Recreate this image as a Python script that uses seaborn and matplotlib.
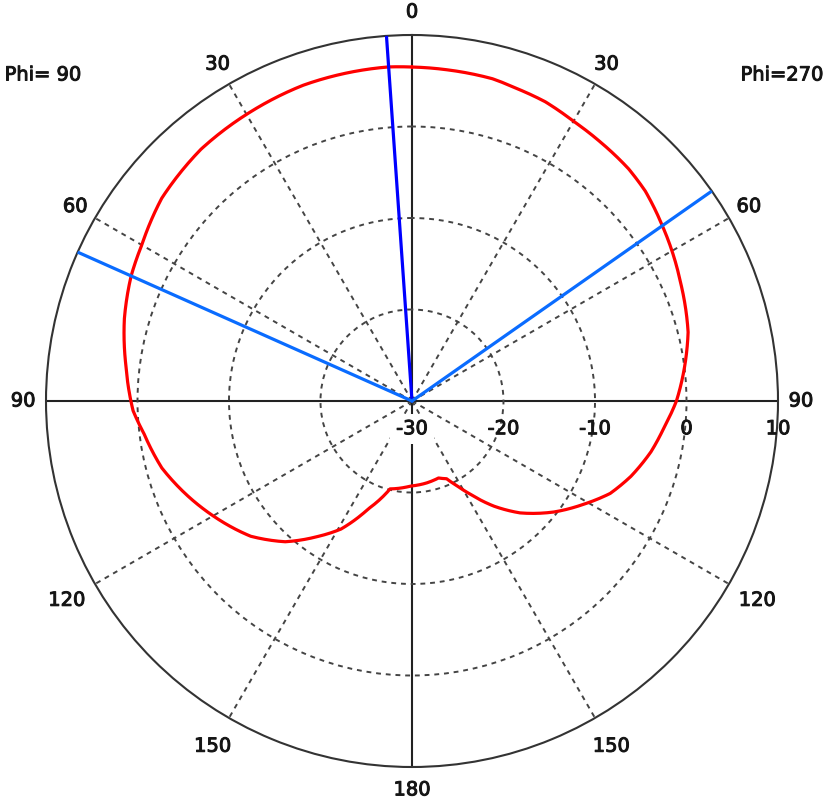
import numpy as np
import matplotlib
matplotlib.use('Agg')
import matplotlib.pyplot as plt
import matplotlib.patheffects as pe
import seaborn as sns

# pattern cut: angle (deg, positive = Phi 90 side) and gain (dB)
angles = [0, 4, 19, 29, 40, 51, 60, 66, 74, 83, 92, 97, 105, 113, 120, 130,
          138, 145, 151, 158, 166, 179, 190, 199, 204, 208, 212, 218, 224,
          232, 239, 245, 251, 258, 264, 270, 277, 284, 294, 305, 312, 317,
          324, 330, 336, 341, 346, 354, 360]
gain = [6.5, 6.6, 6.5, 6.2, 5.9, 5.2, 4.1, 3.6, 2.7, 1.5, 0.5, -0.5, -1.7,
        -3.4, -4.9, -7.0, -9.3, -11.9, -14.0, -17.3, -20.1, -20.7, -20.9,
        -21.1, -20.7, -19.5, -18.0, -15.4, -13.0, -10.3, -8.1, -6.1, -4.7,
        -3.3, -2.3, -1.1, 0.0, 1.1, 2.1, 3.4, 4.3, 4.7, 5.0, 5.3, 5.8,
        6.0, 6.3, 6.4, 6.5]

# main beam direction and half-power directions (deg)
beam_max = 4
beam_3db = [66, -55]

r_min, r_max = -30, 10
ring_ticks = [-30, -20, -10, 0, 10]
theta_ticks = list(range(0, 360, 30))
theta_labels = ['0', '30', '60', '90', '120', '150', '180',
                '150', '120', '90', '60', '30']

sns.set_style('white')
plt.rcParams['font.family'] = ['DejaVu Sans']
txt = '#151515'
heavy = [pe.withStroke(linewidth=0.7, foreground=txt)]

fig = plt.figure(figsize=(8.27, 8.04), dpi=100)
ax = fig.add_axes([46 / 827, 36 / 804, 732 / 827, 732 / 804], projection='polar')
ax.set_theta_zero_location('N')
ax.set_theta_direction(1)
ax.set_rlim(r_min, r_max)

# grid
ax.set_thetagrids(theta_ticks, theta_labels, fontsize=14, color=txt)
for tick in ax.xaxis.get_major_ticks():
    deg = round(np.rad2deg(tick.get_loc())) % 360
    tick.set_pad(13 if deg in (120, 150, 210, 240) else 6)
    tick.label1.set_path_effects(heavy)
    gl = tick.gridline
    if deg % 90 == 0:
        gl.set_linestyle('-')
        gl.set_color('#222222')
        gl.set_linewidth(1.5)
    else:
        gl.set_linestyle((0, (2.5, 2.5)))
        gl.set_color('#444444')
        gl.set_linewidth(1.4)
ax.set_rticks(ring_ticks[1:-1])
ax.set_yticklabels([])
ax.yaxis.grid(True, linestyle=(0, (2.5, 2.5)), color='#444444', linewidth=1.4)
ax.spines['polar'].set_color('#333333')
ax.spines['polar'].set_linewidth(1.5)

# pattern
sns.lineplot(x=np.deg2rad(angles), y=gain, sort=False, estimator=None,
             color='#ff0000', linewidth=2.3, ax=ax, zorder=4)
pattern_line = ax.lines[-1]
pattern_line.get_path()._interpolation_steps = 20  # draw segments as arcs

# beam lines
ax.plot([np.deg2rad(beam_max)] * 2, [r_min, r_max], color='#0000ff', lw=2.3, zorder=5)
for b in beam_3db:
    ax.plot([np.deg2rad(b)] * 2, [r_min, r_max], color='#0a6cff', lw=2.3, zorder=5)

# radial labels along the Phi=270 axis
for r in ring_ticks:
    kw = {}
    if r == r_min:
        kw['bbox'] = dict(facecolor='white', edgecolor='none', pad=4)
    ax.annotate(str(r), xy=(np.deg2rad(270), r), xytext=(0, -20),
                textcoords='offset points', ha='center', va='center',
                fontsize=14, color=txt, zorder=6, annotation_clip=False,
                path_effects=heavy, **kw)

fig.text(43 / 827, 1 - 76 / 804, 'Phi= 90', ha='center', va='center',
         fontsize=14, color=txt, path_effects=heavy)
fig.text(782 / 827, 1 - 76 / 804, 'Phi=270', ha='center', va='center',
         fontsize=14, color=txt, path_effects=heavy)

fig.savefig('out.png', dpi=100)
